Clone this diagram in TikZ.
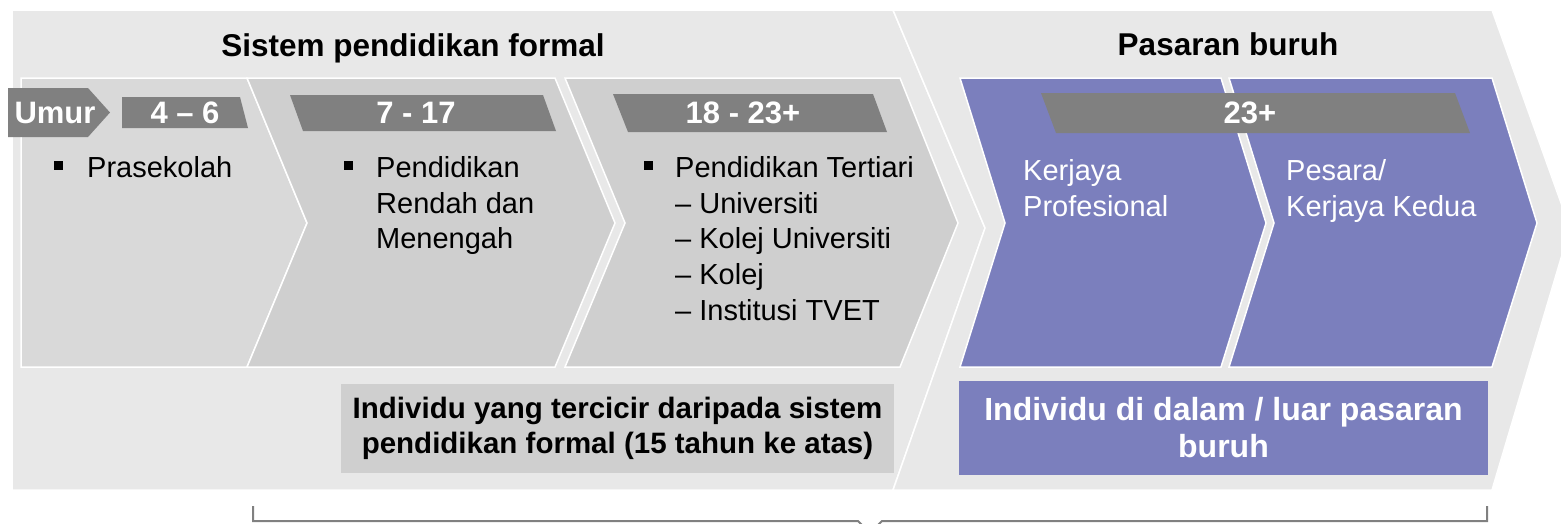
\documentclass[tikz,border=0pt]{standalone}
\usepackage{fontspec}
\setmainfont{Liberation Sans}
\definecolor{bgc}{RGB}{232,232,232}
\definecolor{boxa}{RGB}{217,217,217}
\definecolor{boxb}{RGB}{207,207,207}
\definecolor{purp}{RGB}{123,127,189}
\definecolor{barc}{RGB}{128,128,128}
\newcommand\bodyfnt{\fontsize{29}{35.8}\selectfont}
\newcommand\barfnt{\fontsize{31}{36}\selectfont\bfseries}
\newcommand\titlefnt{\fontsize{31.5}{36}\selectfont\bfseries}
\tikzset{
  bigshape/.style={fill=bgc, draw=white, line width=1.5pt, line join=miter},
  stagebox/.style={draw=white, line width=1.5pt, line join=miter},
  agebar/.style={fill=barc},
  bartxt/.style={text=white, font=\barfnt, inner sep=0pt},
  bodytxt/.style={font=\bodyfnt, align=left, anchor=north west, inner sep=0pt},
  bullet/.style={fill=black, minimum size=9pt, inner sep=0pt},
  titletxt/.style={font=\titlefnt, anchor=base, inner sep=0pt},
  brace/.style={draw=barc, line width=2pt, line join=miter}
}
\begin{document}
\begin{tikzpicture}[x=1pt,y=-1pt]
\useasboundingbox (0,0) rectangle (1561,523);
\clip (0,0) rectangle (1561,523);
% big background chevrons
\path[bigshape] (12,10) -- (893,10) -- (985,228) -- (893,490) -- (12,490) -- cycle;
\path[bigshape] (893,10) -- (1492,10) -- (1570,228) -- (1492,490) -- (893,490) -- (985,228) -- cycle;
% stage boxes
\path[stagebox, fill=boxa] (21,78) -- (247,78) -- (307,223) -- (247,367) -- (21,367) -- cycle;
\path[stagebox, fill=boxb] (247,78) -- (555,78) -- (615,223) -- (555,367) -- (247,367) -- (307,223) -- cycle;
\path[stagebox, fill=boxb] (565,78) -- (900,78) -- (958,223) -- (900,367) -- (565,367) -- (625,223) -- cycle;
\path[stagebox, fill=purp] (960,78) -- (1221,78) -- (1266,223) -- (1221,367) -- (960,367) -- (1005,223) -- cycle;
\path[stagebox, fill=purp] (1229,78) -- (1492,78) -- (1537,223) -- (1492,367) -- (1229,367) -- (1274,223) -- cycle;
% titles
\node[titletxt] (t1) at (413,56) {Sistem pendidikan formal};
\node[titletxt] (t2) at (1228,55) {Pasaran buruh};
% age bars
\path[agebar] (8,88) -- (88,88) -- (110,112.5) -- (88,137) -- (8,137) -- cycle;
\node[bartxt] (umur) at (55,112.5) {Umur};
\path[agebar] (122,97) -- (240,97) -- (248,128) -- (122,128) -- cycle;
\node[bartxt] (a1) at (185,112.5) {4 – 6};
\path[agebar] (290,95) -- (543,95) -- (556,131) -- (303,131) -- cycle;
\node[bartxt] (a2) at (416,113) {7 - 17};
\path[agebar] (613,94) -- (873,94) -- (887,132) -- (628,132) -- cycle;
\node[bartxt] (a3) at (743,113) {18 - 23+};
\path[agebar] (1041,93) -- (1455,93) -- (1470,133) -- (1056,133) -- cycle;
\node[bartxt] (a4) at (1250,113) {23+};
% bullets and body text
\node[bullet] (b1) at (58,165) {};
\node[bodytxt] (s1) at (87,156) {Prasekolah};
\node[bullet] (b2) at (348,165) {};
\node[bodytxt] (s2) at (376,156) {Pendidikan\\Rendah dan\\Menengah};
\node[bullet] (b3) at (648,165) {};
\node[bodytxt] (s3) at (675,156) {Pendidikan Tertiari\\– Universiti\\– Kolej Universiti\\– Kolej\\– Institusi TVET};
\node[bodytxt, text=white] (s4) at (1023,159) {Kerjaya\\Profesional};
\node[bodytxt, text=white] (s5) at (1286,159) {Pesara/\\Kerjaya Kedua};
% bottom boxes
\node[fill=boxb, minimum width=553pt, minimum height=89pt, inner sep=0pt,
      align=center, font=\fontsize{29.5}{35}\selectfont\bfseries] (drop) at (617.5,428.5)
      {Individu yang tercicir daripada sistem\\pendidikan formal (15 tahun ke atas)};
\node[fill=purp, minimum width=529pt, minimum height=94pt, inner sep=0pt, text=white,
      align=center, font=\fontsize{32}{37}\selectfont\bfseries] (lab) at (1223.5,428)
      {Individu di dalam / luar pasaran\\buruh};
% bottom brace
\coordinate (bl) at (253,506);
\coordinate (br) at (1487,506);
\draw[brace] (bl) -- (253,521) -- (858,521) -- (870,533) -- (882,521) -- (1487,521) -- (br);
\end{tikzpicture}
\end{document}
